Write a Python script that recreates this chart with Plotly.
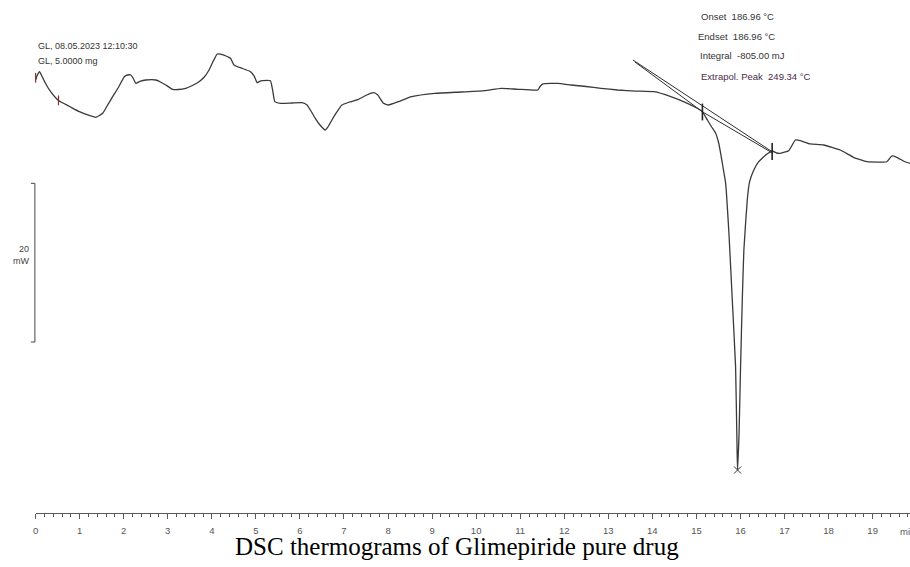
import plotly.graph_objects as go

# DSC heat-flow trace: time (min) vs heat flow (mW, relative)
time_min = [
    0.000, 0.041, 0.090, 0.143, 0.233, 0.346, 0.505, 0.618, 0.753, 0.995,
    1.183, 1.371, 1.523, 1.636, 1.749, 1.885, 2.014, 2.088, 2.163, 2.224,
    2.276, 2.382, 2.502, 2.729, 2.835, 2.955, 3.106, 3.242, 3.407, 3.559,
    3.710, 3.830, 3.937, 4.034, 4.124, 4.276, 4.373, 4.425, 4.502, 4.600,
    4.690, 4.878, 4.962, 5.029, 5.097, 5.143, 5.330, 5.380, 5.430, 5.557,
    5.821, 6.048, 6.161, 6.251, 6.348, 6.455, 6.575, 6.636, 6.726, 6.839,
    6.952, 7.133, 7.330, 7.518, 7.670, 7.767, 7.896, 8.009, 8.235, 8.536,
    9.063, 9.667, 10.195, 10.572, 10.950, 11.403, 11.443, 11.516, 11.855, 12.156,
    12.495, 12.835, 13.213, 13.627, 14.041, 14.419, 14.796, 15.007, 15.136, 15.249,
    15.346, 15.437, 15.505, 15.550, 15.606, 15.663, 15.738, 15.814, 15.889, 15.923,
    15.934, 15.968, 16.002, 16.041, 16.077, 16.154, 16.206, 16.303, 16.410, 16.529,
    16.636, 16.719, 16.817, 16.907, 17.095, 17.247, 17.360, 17.586, 17.887, 18.265,
    18.566, 18.869, 19.321, 19.434, 19.548, 19.735, 19.848,
]
heat_flow_mw = [
    2.52, 3.15, 3.57, 3.02, 2.02, 1.01, 0.00, -0.38, -0.76, -1.47,
    -1.89, -2.18, -1.68, -0.63, 0.42, 1.64, 2.94, 3.15, 3.15, 2.65,
    2.10, 2.39, 2.52, 2.52, 2.27, 1.89, 1.35, 1.32, 1.47, 1.83,
    2.31, 2.90, 3.78, 4.91, 5.80, 5.67, 5.42, 5.26, 4.41, 4.16,
    3.99, 3.57, 3.02, 2.18, 2.39, 2.43, 2.43, 1.26, -0.21, -0.42,
    -0.38, -0.34, -0.63, -1.39, -2.31, -3.15, -3.78, -3.40, -2.52, -1.51,
    -0.63, -0.25, 0.09, 0.63, 0.92, 0.63, -0.42, -0.63, -0.21, 0.42,
    0.84, 1.01, 1.17, 1.47, 1.35, 1.26, 1.64, 2.02, 2.10, 1.89,
    1.70, 1.47, 1.26, 1.13, 1.05, 0.42, -0.42, -1.01, -1.47, -2.52,
    -3.40, -4.20, -5.42, -6.72, -8.57, -10.50, -16.80, -25.20, -33.61, -44.11,
    -46.63, -41.97, -33.61, -25.20, -18.90, -12.60, -10.33, -8.82, -7.81, -7.15,
    -6.68, -6.43, -6.68, -6.72, -6.39, -5.04, -5.13, -5.54, -5.67, -6.30,
    -7.22, -7.78, -7.78, -7.06, -7.22, -7.78, -7.98,
]

# Evaluation construction lines
tangent_t = [13.559, 16.726]
tangent_mw = [5.04, -6.55]
baseline_t = [13.604, 15.143, 16.726]
baseline_mw = [4.79, -1.51, -6.68]

# Evaluation limits and extrapolated peak
limit_t = [15.136, 16.719]
limit_mw = [-1.51, -6.49]
peak_t = [15.934]
peak_mw = [-46.63]

# Segment markers at the start of the run
start_marks_t = [0.0, 0.52]
start_marks_mw = [2.8, -0.05]

# Vertical scale bar (mW)
scale_top_mw = -10.50
scale_span_mw = 20

x_ticks = list(range(0, 20))

curve_color = "#3a3a3a"
axis_color = "#5a5a5a"
sans = "Liberation Sans, Arial, sans-serif"

fig = go.Figure()

fig.add_trace(go.Scatter(
    x=tangent_t, y=tangent_mw, mode="lines",
    line=dict(color="#2e2e2e", width=1), hoverinfo="skip",
))
fig.add_trace(go.Scatter(
    x=baseline_t, y=baseline_mw, mode="lines",
    line=dict(color="#2e2e2e", width=1), hoverinfo="skip",
))
fig.add_trace(go.Scatter(
    x=time_min, y=heat_flow_mw, mode="lines",
    line=dict(color=curve_color, width=1.3, shape="spline", smoothing=0.4),
    name="Heat flow",
))
fig.add_trace(go.Scatter(
    x=limit_t, y=limit_mw, mode="markers",
    marker=dict(symbol="line-ns-open", size=12, color="#222",
                line=dict(color="#222", width=1.6)),
    hoverinfo="skip",
))
fig.add_trace(go.Scatter(
    x=peak_t, y=peak_mw, mode="markers",
    marker=dict(symbol="x-thin-open", size=7, color="#333",
                line=dict(color="#333", width=1)),
    hoverinfo="skip", cliponaxis=False,
))
fig.add_trace(go.Scatter(
    x=start_marks_t, y=start_marks_mw, mode="markers",
    marker=dict(symbol="line-ns-open", size=7, color="#8a3030",
                line=dict(color="#8a3030", width=1.2)),
    hoverinfo="skip", cliponaxis=False,
))

# scale bar drawn on the heat-flow scale
bar_x = 32 / 910
cap_x = 28 / 910
bar_bottom = scale_top_mw - scale_span_mw
line_style = dict(color="#444", width=1)
fig.add_shape(type="line", xref="paper", yref="y", x0=bar_x, x1=bar_x,
              y0=scale_top_mw, y1=bar_bottom, line=line_style)
for yv in (scale_top_mw, bar_bottom):
    fig.add_shape(type="line", xref="paper", yref="y", x0=cap_x, x1=bar_x,
                  y0=yv, y1=yv, line=line_style)

def px(xp, yp):
    return xp / 910, 1 - yp / 567

annotations = []
def note(text, xp, yp, size=9.5, color="#333", anchor="left", family=sans):
    x, y = px(xp, yp)
    annotations.append(dict(
        text=text, x=x, y=y, xref="paper", yref="paper",
        xanchor=anchor, yanchor="middle", showarrow=False,
        borderpad=0,
        font=dict(family=family, size=size, color=color),
    ))

nb = "\u00a0"
note("GL, 08.05.2023 12:10:30", 34, 46, size=9)
note("GL, 5.0000 mg", 34, 61, size=9)
note(f"Onset{nb}{nb}186.96 °C", 699, 17)
note(f"Endset{nb}{nb}186.96 °C", 696.5, 36)
note(f"Integral{nb}{nb}-805.00 mJ", 698, 55)
note(f"Extrapol. Peak{nb}{nb}249.34 °C", 699.5, 77, color="#4a2a48")
note(f"{scale_span_mw}", 27, 249, size=9, color="#444", anchor="right")
note("mW", 27, 261, size=9, color="#444", anchor="right")
note("min", 899, 531, size=9.5, color="#555")
note("DSC thermograms of Glimepiride pure drug", 456, 546, size=25,
     color="#000", anchor="center", family="Liberation Serif, Times New Roman, serif")

fig.update_layout(
    width=910, height=567,
    margin=dict(l=0, r=0, t=0, b=0),
    paper_bgcolor="white", plot_bgcolor="white",
    showlegend=False,
    annotations=annotations,
    xaxis=dict(
        domain=[32.7 / 910, 1], range=[0, 19.848],
        anchor="free", position=1 - 513 / 567,
        showgrid=False, zeroline=False,
        showline=True, linecolor=axis_color, linewidth=1,
        tickmode="array", tickvals=x_ticks, ticktext=[str(v) for v in x_ticks],
        ticks="outside", ticklen=5, tickwidth=1, tickcolor=axis_color,
        ticklabelstandoff=4,
        tickfont=dict(family=sans, size=9.5, color="#555"),
        minor=dict(dtick=0.2, tick0=0, ticks="outside", ticklen=3,
                   tickwidth=1, tickcolor=axis_color),
        fixedrange=True,
    ),
    yaxis=dict(
        domain=[0, 1], range=[-58.853, 12.602],
        visible=False, fixedrange=True,
    ),
)

fig.write_html("out.html")
